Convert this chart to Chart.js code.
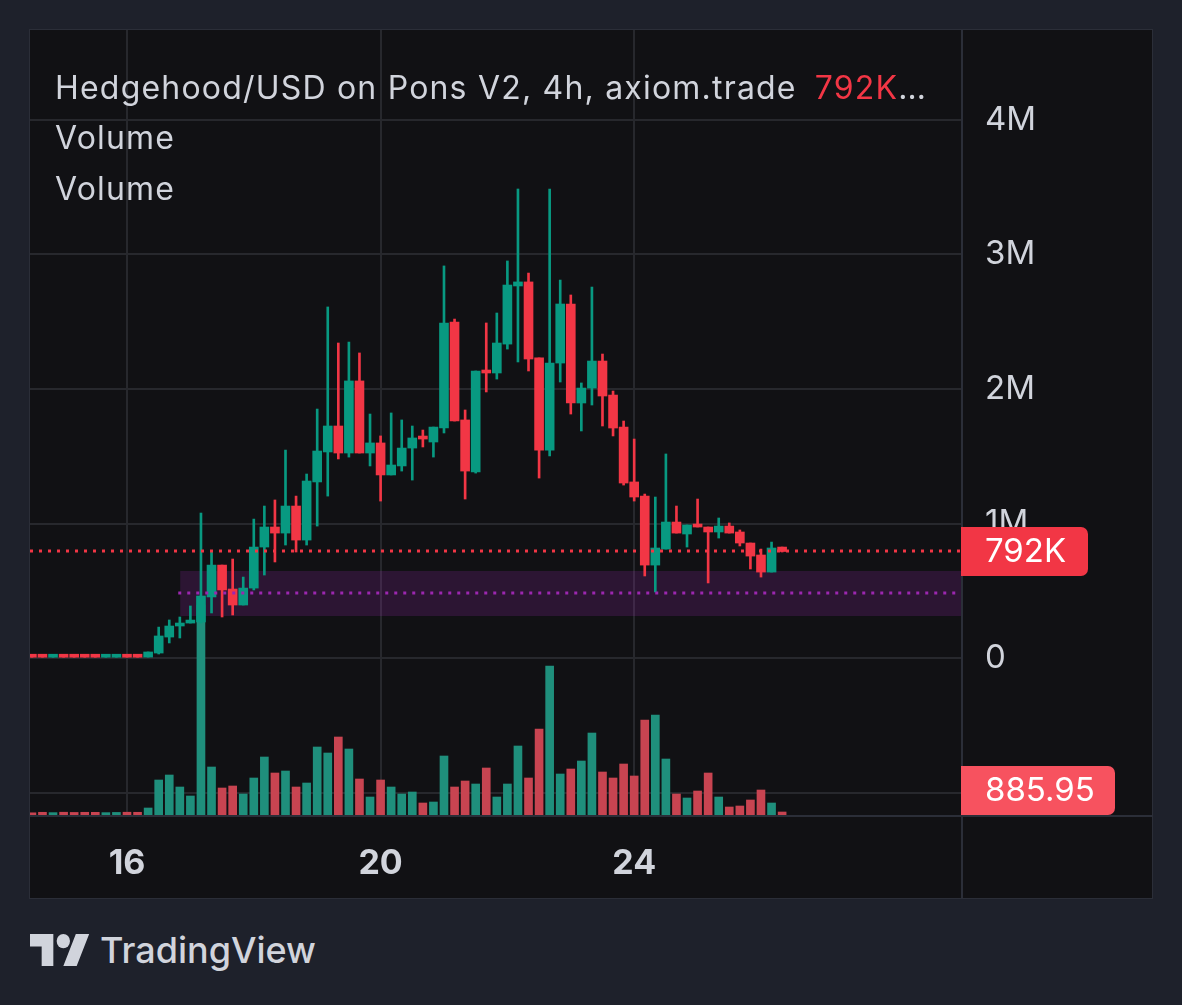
<!DOCTYPE html>
<html>
<head>
<meta charset="utf-8">
<script src="https://cdn.jsdelivr.net/npm/chart.js@4.4.1/dist/chart.umd.min.js"></script>
<style>
  html, body { margin: 0; padding: 0; }
  body { width: 1182px; height: 1005px; background: #1e212b; overflow: hidden; position: relative;
         font-family: Inter, "Noto Sans", sans-serif; }
  #panel { position: absolute; left: 30px; top: 30px; width: 1122px; height: 868px;
           background: #111114; box-shadow: 0 0 0 1px #2b2e38; }
  #panel canvas { position: absolute; left: 0; top: 0; }
  .legend { position: absolute; left: 25px; color: #d1d4dc; font-size: 32px; letter-spacing: 1.2px;
            line-height: 36px; white-space: nowrap; }
  .legend .last { color: #f23645; margin-left: 18px; }
  #brand { position: absolute; left: 30px; top: 928px; height: 44px; display: flex; align-items: center;
           color: #d1d4dc; font-size: 36px; font-weight: 500; }
  #brand svg { margin-right: 10px; }
</style>
</head>
<body>
<div id="panel">
  <canvas id="chart" width="1122" height="868"></canvas>
  <div class="legend" style="top:40px">Hedgehood/USD on Pons V2, 4h, axiom.trade<span class="last" id="lastTxt"></span>…</div>
  <div class="legend" style="top:90px">Volume</div>
  <div class="legend" style="top:141px">Volume</div>
</div>
<div id="brand">
  <svg width="60" height="32" viewBox="0 4 36 18" preserveAspectRatio="none"><path fill="#d1d4dc" d="M14 22H7V11H0V4h14v18zM28 22h-8l7.5-18h8L28 22z"/><circle fill="#d1d4dc" cx="20" cy="8" r="4"/></svg>
  TradingView
</div>
<script>
// 4h candles, prices in thousands of USD; first candle is day 14.5 (Jan 14, 12:00)
const firstDay = 14.5;
const barDays = 4 / 24;

const opens = [12, 12, 6, 12, 12, 12, 12, 6, 6, 12, 12,
  7, 37, 156, 238, 260, 268, 454, 691, 513, 394, 520, 825, 974, 929, 1130, 877, 1309, 1532, 1725, 1524,
  2060, 1524, 1599, 1361, 1428, 1561, 1643, 1606, 1710, 2498, 1770, 1383, 2141, 2119, 2334, 2766, 2796, 2231, 1546, 2193,
  2632, 1896, 2007, 2208, 1955, 1717, 1309, 1204, 691, 810, 1011, 922, 996, 974, 937, 981, 937, 855, 766, 639, 825];
const closes = [6, 6, 12, 6, 6, 6, 6, 12, 12, 6, 6,
  45, 164, 238, 253, 275, 461, 691, 506, 394, 520, 825, 974, 929, 1130, 877, 1316, 1539, 1725, 1524, 2060,
  1524, 1599, 1361, 1435, 1561, 1636, 1628, 1717, 2491, 1762, 1390, 2134, 2119, 2342, 2773, 2796, 2223, 1546, 2193, 2632,
  1896, 2007, 2208, 1948, 1710, 1301, 1197, 691, 818, 1011, 929, 989, 974, 937, 981, 929, 855, 758, 639, 818, 792];
const highs = [12, 12, 12, 12, 12, 12, 12, 12, 12, 12, 12,
  45, 230, 283, 305, 387, 1078, 796, 691, 736, 602, 1033, 1130, 1175, 1546, 1204, 1368, 1851, 2610, 2342, 2349,
  2268, 1814, 1651, 1822, 1770, 1725, 1695, 1717, 2915, 2520, 1844, 2134, 2491, 2565, 2952, 3487, 2862, 2231, 3487, 2810,
  2699, 2045, 2758, 2260, 1985, 1762, 1628, 1219, 1197, 1517, 1130, 989, 1182, 974, 1041, 1004, 952, 855, 810, 862, 825];
const lows = [6, 6, 6, 6, 6, 6, 6, 6, 6, 6, 6,
  7, 30, 112, 149, 260, 260, 335, 305, 320, 394, 506, 617, 714, 840, 788, 840, 981, 1204, 1480, 1494,
  1524, 1428, 1167, 1361, 1390, 1323, 1569, 1494, 1673, 1762, 1182, 1375, 1978, 2074, 2297, 2201, 2134, 1338, 1502, 2052,
  1814, 1688, 1881, 1725, 1651, 1286, 1167, 610, 491, 810, 929, 825, 974, 558, 892, 929, 833, 662, 602, 639, 788];
const volumes = [650, 800, 700, 820, 760, 800, 780, 700, 760, 820, 800,
  2065, 10325, 11800, 8260, 5605, 61950, 14160, 7965, 8555, 6195, 10915, 17110, 12390, 12980, 8260, 9440, 20060, 18290, 23010, 19470,
  10620, 5310, 10325, 8260, 6195, 6785, 3540, 3835, 17405, 8260, 10030, 9145, 13865, 5310, 9145, 20355, 10915, 25370, 43955, 12095,
  13570, 15930, 24190, 12685, 10915, 15045, 11505, 28025, 29500, 16520, 6195, 5015, 7080, 12390, 5310, 2360, 2655, 4425, 7375, 3540, 885.95];

const dayTicks = [16, 20, 24];
const priceTicks = [-1000, 0, 1000, 2000, 3000, 4000];
// highlighted zone and its mid line
const zoneStart = 16.84;
const zoneTop = 647;
const zoneBottom = 312;
const zoneMid = 483;

const UP = '#089981', DOWN = '#f23645';
const VOL_UP = '#1f8f7c', VOL_DOWN = '#c84451';

const days = opens.map((_, i) => firstDay + i * barDays);
const isUp = opens.map((o, i) => closes[i] >= o);
const lastClose = closes[closes.length - 1];
const lastVol = volumes[volumes.length - 1];
document.getElementById('lastTxt').textContent = lastClose + 'K';

Chart.defaults.font.family = 'Inter, "Noto Sans", sans-serif';

const overlay = {
  id: 'overlay',
  beforeDatasetsDraw(chart) {
    const {ctx, chartArea: a, scales: {x, y}} = chart;
    const x0 = x.getPixelForValue(zoneStart);
    const yt = y.getPixelForValue(zoneTop), yb = y.getPixelForValue(zoneBottom);
    ctx.save();
    ctx.fillStyle = 'rgba(156,39,176,0.2)';
    ctx.fillRect(x0, yt, a.right - x0, yb - yt);
    ctx.restore();
  },
  afterDatasetsDraw(chart) {
    const {ctx, chartArea: a, scales: {x, y}} = chart;
    ctx.save();
    ctx.lineWidth = 3;
    ctx.setLineDash([3, 6]);
    let py = Math.round(y.getPixelForValue(zoneMid));
    ctx.strokeStyle = '#9c27b0';
    ctx.beginPath(); ctx.moveTo(x.getPixelForValue(zoneStart) - 2, py); ctx.lineTo(a.right, py); ctx.stroke();
    py = Math.round(y.getPixelForValue(lastClose));
    ctx.strokeStyle = DOWN;
    ctx.beginPath(); ctx.moveTo(a.left, py); ctx.lineTo(a.right, py); ctx.stroke();
    ctx.restore();
  },
  afterDraw(chart) {
    const {ctx, chartArea: a, scales: {y, v}} = chart;
    ctx.save();
    // pane separators
    ctx.strokeStyle = '#2b2e38';
    ctx.lineWidth = 2;
    ctx.beginPath();
    ctx.moveTo(a.right + 1, 0); ctx.lineTo(a.right + 1, chart.height);
    ctx.moveTo(0, a.bottom + 1); ctx.lineTo(chart.width, a.bottom + 1);
    ctx.stroke();
    // price tags
    const tag = (cy, w, color, text) => {
      const h = 49;
      cy = Math.min(Math.max(cy, a.top + h / 2), a.bottom - h / 2);
      ctx.fillStyle = color;
      ctx.beginPath();
      ctx.roundRect(a.right, cy - h / 2, w, h, [0, 7, 7, 0]);
      ctx.fill();
      ctx.fillStyle = '#ffffff';
      ctx.font = '33px Inter, "Noto Sans", sans-serif';
      ctx.textBaseline = 'middle';
      ctx.textAlign = 'left';
      ctx.fillText(text, a.right + 24, cy + 1);
    };
    tag(y.getPixelForValue(lastClose), 127, DOWN, lastClose + 'K');
    tag(v.getPixelForValue(lastVol), 154, '#f7525f', lastVol.toFixed(2));
    ctx.restore();
  }
};

new Chart(document.getElementById('chart'), {
  type: 'bar',
  data: {
    datasets: [
      {
        label: 'Volume', yAxisID: 'v', order: 3, barThickness: 8,
        data: days.map((d, i) => ({x: d, y: volumes[i]})),
        backgroundColor: isUp.map(u => u ? VOL_UP : VOL_DOWN)
      },
      {
        label: 'Wick', yAxisID: 'y', order: 2, barThickness: 2,
        data: days.map((d, i) => ({x: d, y: [lows[i], highs[i]]})),
        backgroundColor: isUp.map(u => u ? UP : DOWN)
      },
      {
        label: 'Body', yAxisID: 'y', order: 1, barThickness: 9, minBarLength: 3,
        data: days.map((d, i) => ({x: d, y: [Math.min(opens[i], closes[i]), Math.max(opens[i], closes[i])]})),
        backgroundColor: isUp.map(u => u ? UP : DOWN)
      }
    ]
  },
  options: {
    responsive: false,
    animation: false,
    devicePixelRatio: 1,
    layout: {padding: 0, autoPadding: false},
    datasets: {bar: {grouped: false, borderWidth: 0, borderSkipped: false}},
    plugins: {legend: {display: false}, tooltip: {enabled: false}},
    scales: {
      x: {
        type: 'linear', min: 14.47, max: 29.155, offset: false,
        afterBuildTicks: s => { s.ticks = dayTicks.map(value => ({value})); },
        afterFit: s => { s.height = 83; s.paddingLeft = 0; s.paddingRight = 0; },
        grid: {color: '#27282d', lineWidth: 2, drawTicks: false, offset: false},
        border: {display: false},
        ticks: {color: '#d1d4dc', font: {size: 34, weight: 'bold'}, padding: 28, maxRotation: 0,
                callback: v => String(v)}
      },
      y: {
        position: 'right', min: -1167, max: 4669,
        afterBuildTicks: s => { s.ticks = priceTicks.map(value => ({value})); },
        afterFit: s => { s.width = 191; s.paddingTop = 0; s.paddingBottom = 0; },
        grid: {color: '#27282d', lineWidth: 2, drawTicks: false},
        border: {display: false},
        ticks: {color: '#d1d4dc', font: {size: 33}, padding: 24, crossAlign: 'near',
                callback: v => v < 0 ? '' : v === 0 ? '0' : (v / 1000) + 'M'}
      },
      v: {display: false, min: 0, max: 231600}
    }
  },
  plugins: [overlay]
});
</script>
</body>
</html>
